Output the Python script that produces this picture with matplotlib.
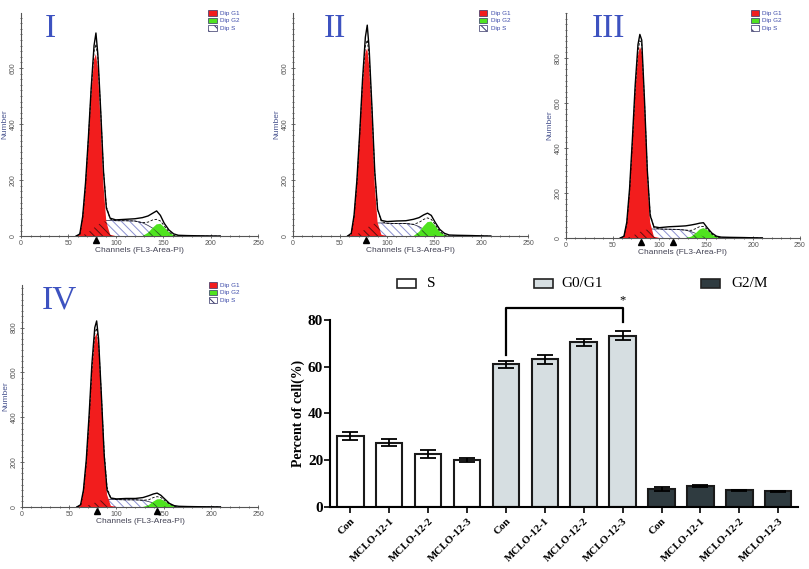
import numpy as np
import matplotlib
matplotlib.use("Agg")
import matplotlib.pyplot as plt
from matplotlib.patches import Rectangle
from matplotlib.ticker import MultipleLocator

# ---- flow cytometry histograms ----
channels = [58, 62, 65, 68, 71, 74, 77, 79, 81, 84, 87, 90, 94, 100, 110, 120,
            128, 134, 139, 143, 147, 151, 156, 161, 166, 175, 190, 210]

counts_I = [0, 8, 70, 190, 350, 530, 680, 725, 650, 450, 230, 100, 64, 58, 60, 62,
            66, 72, 82, 90, 74, 46, 22, 8, 3, 2, 1, 0]
g1_I = [0, 5, 60, 170, 330, 500, 630, 650, 600, 400, 180, 50, 5, 0, 0, 0,
        0, 0, 0, 0, 0, 0, 0, 0, 0, 0, 0, 0]
s_I = [0, 0, 3, 8, 14, 22, 30, 35, 40, 47, 53, 56, 56, 55, 55, 54,
       48, 38, 28, 18, 10, 5, 1, 0, 0, 0, 0, 0]
g2_I = [0, 0, 0, 0, 0, 0, 0, 0, 0, 0, 0, 0, 0, 0, 0, 0,
        0, 12, 30, 42, 44, 32, 14, 3, 0, 0, 0, 0]

counts_II = [0, 10, 75, 200, 370, 560, 710, 753, 670, 460, 230, 95, 56, 52, 54, 55,
             60, 66, 76, 82, 74, 50, 24, 10, 4, 3, 2, 0]
g1_II = [0, 6, 65, 180, 350, 530, 655, 670, 610, 410, 180, 48, 5, 0, 0, 0,
         0, 0, 0, 0, 0, 0, 0, 0, 0, 0, 0, 0]
s_II = [0, 0, 3, 7, 12, 18, 25, 30, 35, 41, 45, 47, 47, 46, 45, 45,
        42, 34, 24, 15, 8, 4, 1, 0, 0, 0, 0, 0]
g2_II = [0, 0, 0, 0, 0, 0, 0, 0, 0, 0, 0, 0, 0, 0, 0, 0,
         0, 15, 36, 50, 52, 38, 16, 4, 0, 0, 0, 0]

counts_III = [0, 8, 70, 220, 440, 680, 860, 905, 880, 610, 300, 100, 50, 46, 50, 52,
              54, 58, 62, 66, 68, 46, 22, 8, 4, 3, 2, 0]
g1_III = [0, 5, 60, 200, 410, 640, 810, 850, 830, 570, 260, 70, 6, 0, 0, 0,
          0, 0, 0, 0, 0, 0, 0, 0, 0, 0, 0, 0]
s_III = [0, 0, 2, 5, 10, 16, 22, 27, 31, 35, 38, 40, 40, 40, 39, 38,
         35, 28, 20, 13, 7, 3, 1, 0, 0, 0, 0, 0]
g2_III = [0, 0, 0, 0, 0, 0, 0, 0, 0, 0, 0, 0, 0, 0, 0, 0,
          0, 6, 22, 38, 44, 36, 16, 4, 0, 0, 0, 0]

counts_IV = [0, 10, 75, 210, 410, 640, 800, 830, 750, 500, 230, 75, 40, 36, 38, 38,
             42, 50, 58, 62, 52, 36, 16, 6, 3, 2, 1, 0]
g1_IV = [0, 6, 65, 190, 380, 600, 755, 775, 710, 470, 210, 55, 5, 0, 0, 0,
         0, 0, 0, 0, 0, 0, 0, 0, 0, 0, 0, 0]
s_IV = [0, 0, 2, 5, 9, 14, 19, 23, 27, 30, 32, 33, 33, 33, 32, 32,
        30, 24, 18, 12, 7, 3, 1, 0, 0, 0, 0, 0]
g2_IV = [0, 0, 0, 0, 0, 0, 0, 0, 0, 0, 0, 0, 0, 0, 0, 0,
         0, 8, 24, 34, 35, 26, 12, 3, 0, 0, 0, 0]

marks_I = [79]
marks_II = [78]
marks_III = [80, 114]
marks_IV = [79, 143]

# ---- cell cycle bar chart ----
bar_labels = ["Con", "MCLO-12-1", "MCLO-12-2", "MCLO-12-3"]
s_pct = [30.4, 27.5, 22.6, 20.1]
s_err = [1.6, 1.6, 1.8, 1.0]
g01_pct = [61.1, 63.2, 70.4, 73.2]
g01_err = [1.5, 1.9, 1.4, 1.9]
g2m_pct = [7.7, 9.0, 7.1, 6.7]
g2m_err = [1.0, 0.5, 0.2, 0.3]

RED = "#f21d1d"
GREEN = "#4fe31f"
BLUE_TXT = "#3a48a8"
NUM_BLUE = "#3d52c0"


def draw_hist(ax, counts, g1, s, g2, marks, ymax, ymajor, yminor, numeral, num_x):
    x = np.array(channels)
    g1 = np.array(g1)
    s = np.array(s)
    g2 = np.array(g2)
    ax.fill_between(x, 0, s, facecolor="white", edgecolor="#8a8fd0",
                    hatch="\\\\\\\\", linewidth=0, zorder=2)
    ax.plot(x, s, color="#404060", lw=0.6, zorder=2.5)
    ax.fill_between(x, 0, g1, facecolor=RED, edgecolor="none", zorder=3)
    ax.fill_between(x, 0, g2, facecolor=GREEN, edgecolor="none", zorder=3)
    # hatch showing through the overlapping parts
    ax.fill_between(x, 0, np.minimum(g1, s), facecolor="none", edgecolor="#5a1010",
                    hatch="\\\\\\\\", linewidth=0, zorder=3.5)
    ax.fill_between(x, 0, np.minimum(g2, s), facecolor="none", edgecolor="#2a6a20",
                    hatch="\\\\\\\\", linewidth=0, zorder=3.5)
    ax.plot(x, g1 + s + g2, color="black", lw=0.6, ls=(0, (3, 2)), zorder=4)
    ax.plot(x, counts, color="black", lw=1.0, zorder=5)
    ax.plot(marks, [-ymax * 0.018] * len(marks), ls="none", marker="^", ms=5,
            color="black", clip_on=False, zorder=6)

    ax.set_xlim(0, 250)
    ax.set_ylim(0, ymax)
    for side in ["top", "right"]:
        ax.spines[side].set_visible(False)
    for side in ["left", "bottom"]:
        ax.spines[side].set_color("#555555")
        ax.spines[side].set_linewidth(0.8)
    ax.xaxis.set_major_locator(MultipleLocator(50))
    ax.xaxis.set_minor_locator(MultipleLocator(10))
    ax.yaxis.set_minor_locator(MultipleLocator(yminor))
    ax.set_yticks([t for t in range(0, int(ymax), ymajor)])
    ax.tick_params(which="both", direction="inout", colors="#555555",
                   labelsize=5, pad=1.5, width=0.6)
    ax.tick_params(which="major", length=3)
    ax.tick_params(which="minor", length=2)
    ax.tick_params(axis="y", labelrotation=90)
    for lab in ax.get_yticklabels():
        lab.set_va("center")
    ax.set_xlabel("Channels (FL3-Area-PI)", fontsize=6, color="#444455", labelpad=0)
    ax.set_ylabel("Number", fontsize=6, color="#4a5590", labelpad=1)
    ax.patch.set_alpha(0)

    ax.text(num_x, 0.93, numeral, transform=ax.transAxes, fontsize=24,
            family="Liberation Serif", color=NUM_BLUE, va="center", ha="left")

    # small legend in the top right
    entries = [("Dip G1", RED, None), ("Dip G2", GREEN, None), ("Dip S", "white", "\\\\\\")]
    for i, (name, col, h) in enumerate(entries):
        yy = 1.0 - i * 0.034
        ax.add_patch(Rectangle((0.79, yy - 0.012), 0.035, 0.026, transform=ax.transAxes,
                               facecolor=col, edgecolor="#333366", lw=0.5,
                               hatch=h, clip_on=False))
        ax.text(0.84, yy, name, transform=ax.transAxes, fontsize=4.5,
                color=BLUE_TXT, va="center", ha="left")


fig = plt.figure(figsize=(8.09, 5.69), dpi=100)
plt.rcParams["font.family"] = ["Liberation Sans", "DejaVu Sans"]
plt.rcParams["hatch.linewidth"] = 0.7

ax1 = fig.add_axes([0.026, 0.585, 0.293, 0.392])
draw_hist(ax1, counts_I, g1_I, s_I, g2_I, marks_I, 796, 200, 20, "I", 0.10)
ax2 = fig.add_axes([0.362, 0.585, 0.291, 0.392])
draw_hist(ax2, counts_II, g1_II, s_II, g2_II, marks_II, 796, 200, 20, "II", 0.13)
ax3 = fig.add_axes([0.6996, 0.5817, 0.289, 0.3954])
draw_hist(ax3, counts_III, g1_III, s_III, g2_III, marks_III, 1000, 200, 25, "III", 0.11)
ax4 = fig.add_axes([0.0272, 0.109, 0.292, 0.390])
draw_hist(ax4, counts_IV, g1_IV, s_IV, g2_IV, marks_IV, 990, 200, 25, "IV", 0.085)

# ---- bar chart ----
axb = fig.add_axes([0.408, 0.109, 0.578, 0.3287])
serif = "Liberation Serif"
groups = [(s_pct, s_err, "white"), (g01_pct, g01_err, "#d6dee1"), (g2m_pct, g2m_err, "#2f3b40")]
pos = 0
tick_pos = []
tick_lab = []
for vals, errs, col in groups:
    xs = np.arange(pos, pos + len(vals))
    axb.bar(xs, vals, width=0.68, color=col, edgecolor="#1a1a1a", linewidth=1.5, zorder=2)
    axb.errorbar(xs, vals, yerr=errs, fmt="none", ecolor="black", elinewidth=1.3,
                 capsize=6, capthick=1.3, zorder=3)
    tick_pos.extend(xs)
    tick_lab.extend(bar_labels)
    pos += len(vals)

axb.set_xlim(-0.52, 11.5)
axb.set_ylim(0, 80)
axb.set_yticks([0, 20, 40, 60, 80])
axb.set_xticks(tick_pos)
axb.set_xticklabels(tick_lab, rotation=45, ha="right", va="top", rotation_mode="anchor",
                    fontsize=7.8, fontweight="bold", family=serif)
for lab in axb.get_yticklabels():
    lab.set_fontweight("bold")
    lab.set_family(serif)
    lab.set_fontsize(11)
axb.tick_params(axis="x", length=4, width=1.2, pad=3)
axb.tick_params(axis="y", length=4, width=1.2, pad=1)
for side in ["top", "right"]:
    axb.spines[side].set_visible(False)
for side in ["left", "bottom"]:
    axb.spines[side].set_linewidth(1.5)
axb.set_ylabel("Percent of cell(%)", fontsize=10, fontweight="bold", family=serif, labelpad=2)

# significance bracket between G0/G1 Con and MCLO-12-3
axb.plot([4, 4, 7, 7], [65, 85, 85, 79], color="black", lw=1.6, clip_on=False)
axb.text(7, 86, "*", ha="center", va="bottom", fontsize=9, family=serif)

# legend row above the bar chart
leg = [("S", "white", 0.4907, 0.528), ("G0/G1", "#d6dee1", 0.660, 0.6935),
       ("G2/M", "#2f3b40", 0.8665, 0.9035)]
for name, col, bx, tx in leg:
    fig.patches.append(Rectangle((bx, 0.4946), 0.0235, 0.0158, transform=fig.transFigure,
                                 facecolor=col, edgecolor="#222222", lw=1.2))
    fig.text(tx, 0.5025, name, fontsize=11, family=serif, va="center", ha="left")

fig.savefig("out.png", dpi=100)
